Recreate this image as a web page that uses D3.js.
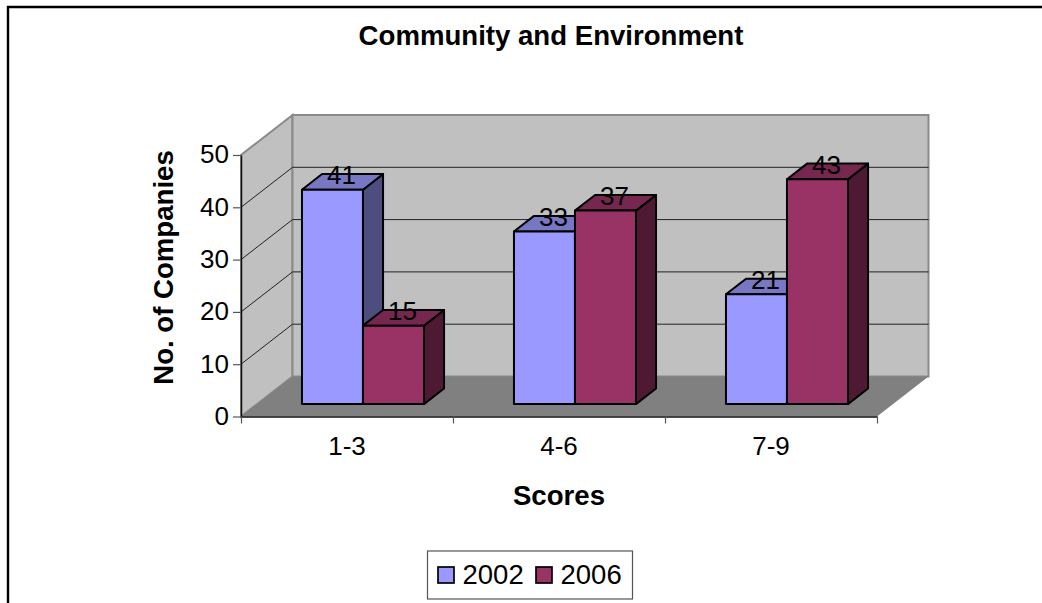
<!DOCTYPE html>
<html>
<head>
<meta charset="utf-8">
<script src="https://cdn.jsdelivr.net/npm/d3@7"></script>
<style>
  html, body { margin: 0; padding: 0; background: #fff; }
  svg { display: block; font-family: "Liberation Sans", Arial, sans-serif; }
</style>
</head>
<body>
<svg id="chart" width="1042" height="603"></svg>
<script>
// Chart data
const categories = ["1-3", "4-6", "7-9"];
const seriesNames = ["2002", "2006"];
const values2002 = [41, 33, 21];
const values2006 = [15, 37, 43];
const valueTicks = [0, 10, 20, 30, 40, 50];

const seriesValues = [values2002, values2006];
const seriesColors = [
  { front: "#9999ff", side: "#4d4d80", top: "#7777c4" },
  { front: "#993366", side: "#4d1933", top: "#76274f" }
];

const svg = d3.select("#chart");

// Scales for the front plane of the 3-D box
const x = d3.scaleBand().domain(categories).range([241, 877]);
const xEdges = d3.scaleLinear().domain([0, categories.length]).range([241, 877]);
const xSeries = d3.scaleBand().domain(seriesNames).range([45, 167]);
const y = d3.scaleLinear().domain([0, 50]).range([416.5, 155]);

// Depth projection: z runs 0 (front) to 1 (back wall)
const depth = { dx: 51.5, dy: -40 };
const px = (xv, z) => xv + z * depth.dx;
const py = (v, z) => y(v) + z * depth.dy;
const poly = pts => pts.map(p => p.join(",")).join(" ");

const [v0, v1] = y.domain();
const [xL, xR] = x.range();

// Outer frame, cut off by the right and bottom of the page
svg.append("path")
  .attr("d", "M8,603V7H1042")
  .attr("fill", "none").attr("stroke", "#000").attr("stroke-width", 2.4);

// Walls and floor
const wallStroke = "#8a8a8a";
svg.append("polygon")
  .attr("points", poly([[px(xL,0),py(v0,0)],[px(xL,1),py(v0,1)],[px(xL,1),py(v1,1)],[px(xL,0),py(v1,0)]]))
  .attr("fill", "#c0c0c0").attr("stroke", wallStroke).attr("stroke-width", 2);
svg.append("polygon")
  .attr("points", poly([[px(xL,1),py(v0,1)],[px(xR,1),py(v0,1)],[px(xR,1),py(v1,1)],[px(xL,1),py(v1,1)]]))
  .attr("fill", "#c0c0c0").attr("stroke", wallStroke).attr("stroke-width", 2);
svg.append("polygon")
  .attr("points", poly([[px(xL,0),py(v0,0)],[px(xR,0),py(v0,0)],[px(xR,1),py(v0,1)],[px(xL,1),py(v0,1)]]))
  .attr("fill", "#808080");

// Gridlines across the left and back walls
const gridTicks = valueTicks.filter(t => t > v0 && t < v1);
svg.append("g").selectAll("path").data(gridTicks).join("path")
  .attr("d", t => `M${px(xL,0)},${py(t,0)}L${px(xL,1)},${py(t,1)}L${px(xR,1)},${py(t,1)}`)
  .attr("fill", "none").attr("stroke", "#222").attr("stroke-width", 1);

// Bars, painted series by series so later fronts overlap earlier sides
const zFront = 0.31, zBack = 0.70;
const bars = [];
seriesNames.forEach((name, s) => {
  categories.forEach((cat, c) => {
    bars.push({ cat, name, s, value: seriesValues[s][c] });
  });
});
const barG = svg.append("g").attr("stroke", "#000").attr("stroke-width", 2).attr("stroke-linejoin", "round");
const allLabels = [];

categories.forEach(cat => {
  seriesNames.forEach(name => {
    const d = bars.find(b => b.cat === cat && b.name === name);
    const c = seriesColors[d.s];
    const a = x(cat) + xSeries(name);
    const b = a + xSeries.bandwidth();
    barG.append("polygon").attr("fill", c.side).attr("points", poly([
      [px(b,zFront),py(0,zFront)],[px(b,zBack),py(0,zBack)],[px(b,zBack),py(d.value,zBack)],[px(b,zFront),py(d.value,zFront)]
    ]));
    barG.append("polygon").attr("fill", c.top).attr("points", poly([
      [px(a,zFront),py(d.value,zFront)],[px(a,zBack),py(d.value,zBack)],[px(b,zBack),py(d.value,zBack)],[px(b,zFront),py(d.value,zFront)]
    ]));
    barG.append("polygon").attr("fill", c.front).attr("points", poly([
      [px(a,zFront),py(0,zFront)],[px(b,zFront),py(0,zFront)],[px(b,zFront),py(d.value,zFront)],[px(a,zFront),py(d.value,zFront)]
    ]));
    const zMid = (zFront + zBack) / 2;
    allLabels.push({ text: d.value, x: px((a + b) / 2, zMid), y: py(d.value, zMid) });
  });
});

// Value labels sit on the bar tops
svg.append("g").selectAll("text").data(allLabels).join("text")
  .attr("x", d => d.x - 1).attr("y", d => d.y + 2.5)
  .attr("text-anchor", "middle").attr("font-size", 26).attr("fill", "#000")
  .text(d => d.text);

// Axes
const yAxis = svg.append("g").attr("transform", `translate(${xL},0)`)
  .call(d3.axisLeft(y).tickValues(valueTicks).tickSize(8).tickSizeOuter(0).tickPadding(4));
const xTicks = svg.append("g").attr("transform", `translate(0,${y(0)})`)
  .call(d3.axisBottom(xEdges).ticks(categories.length).tickFormat("").tickSize(7).tickSizeOuter(0));
const xLabels = svg.append("g").attr("transform", `translate(0,${y(0)})`)
  .call(d3.axisBottom(x).tickSize(0).tickPadding(20));
xLabels.select(".domain").remove();

[yAxis, xTicks].forEach(g => {
  g.selectAll(".domain").attr("stroke", "#111").attr("stroke-width", 1.5);
  g.selectAll(".tick line").attr("stroke", "#555").attr("stroke-width", 1.2);
});
[yAxis, xLabels].forEach(g => {
  g.selectAll("text").attr("font-family", "Liberation Sans, Arial, sans-serif")
    .attr("font-size", 26).attr("fill", "#000");
});
yAxis.selectAll("text").attr("dy", "0.3em");

// Titles
svg.append("text").attr("x", 551).attr("y", 45).attr("text-anchor", "middle")
  .attr("font-size", 27.6).attr("font-weight", "bold").text("Community and Environment");
svg.append("text").attr("x", 559).attr("y", 505).attr("text-anchor", "middle")
  .attr("font-size", 27.6).attr("font-weight", "bold").text("Scores");
svg.append("text").attr("transform", "translate(173,267.5) rotate(-90)").attr("text-anchor", "middle")
  .attr("font-size", 27.6).attr("font-weight", "bold").text("No. of Companies");

// Legend
const legend = svg.append("g");
legend.append("rect").attr("x", 427.5).attr("y", 551).attr("width", 205).attr("height", 48)
  .attr("fill", "#fff").attr("stroke", "#555").attr("stroke-width", 1.2);
const legendX = d3.scalePoint().domain(seriesNames).range([438, 536]);
const legendItems = legend.selectAll("g").data(seriesNames).join("g")
  .attr("transform", d => `translate(${legendX(d)},567)`);
legendItems.append("rect").attr("width", 16).attr("height", 16)
  .attr("fill", (d, i) => seriesColors[i].front).attr("stroke", "#000").attr("stroke-width", 1.7);
legendItems.append("text").attr("x", 24.5).attr("y", 17).attr("font-size", 27.5).text(d => d);
</script>
</body>
</html>
